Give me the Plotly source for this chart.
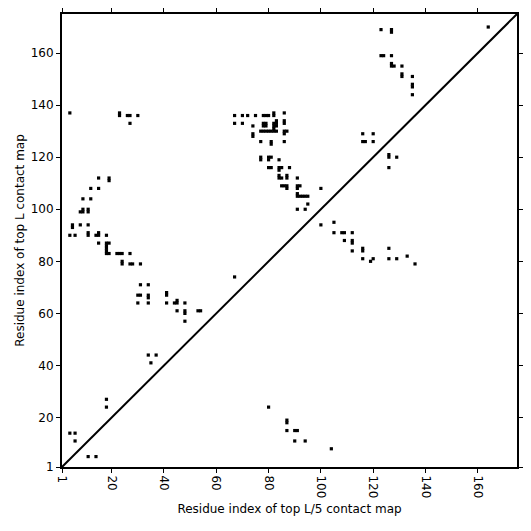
import plotly.graph_objects as go

L = 175
tick_vals = [1, 20, 40, 60, 80, 100, 120, 140, 160]
tick_text = ["1", "20", "40", "60", "80", "100", "120", "140", "160"]

# contacts of top L map (upper triangle): (x, y)
top_L_x = [4, 23, 23, 26, 27, 30, 27,
           15, 19, 19, 12, 15, 9, 12, 8, 9, 9, 11, 11, 5, 5, 8, 11, 4, 6, 11, 11, 14, 15, 15, 18,
           15, 18, 18, 18, 19, 18, 18, 19, 22, 23, 24, 27, 24, 24, 27, 28, 31, 31, 34, 30, 31, 34, 34,
           41, 41, 30, 34, 41, 44, 45, 45, 45, 48, 48, 48, 53, 54, 48, 34, 37, 35, 18, 18, 4, 6, 6, 11, 14,
           67, 70, 72, 75, 78, 79, 80, 82, 82, 86,
           67, 70, 74, 78, 79, 78, 79, 82, 83, 82, 83, 83, 86, 86,
           74, 74, 77, 78, 79, 80, 81, 82, 82, 83, 86, 87, 86,
           77, 81, 81, 86,
           77, 77, 80, 80, 81, 84,
           80, 81, 84, 85, 84, 88,
           84, 84, 85, 87, 87, 91,
           85, 86, 87, 87, 91, 92, 91, 100,
           91, 92, 91, 93, 94, 95,
           95, 91, 94, 67,
           116, 120, 116, 117, 120, 123, 127, 127, 123, 124, 127, 127, 127, 128, 131, 131, 131,
           135, 135, 135, 135, 164]
top_L_y = [137, 136, 137, 136, 136, 136, 133,
           112, 111, 112, 108, 108, 104, 104, 99, 99, 100, 99, 100, 93, 94, 94, 94, 90, 90, 90, 91, 90, 90, 91, 90,
           87, 85, 86, 87, 87, 84, 83, 83, 83, 83, 83, 83, 79, 80, 79, 79, 79, 71, 71, 67, 67, 66, 67,
           67, 68, 64, 64, 64, 64, 64, 65, 61, 64, 60, 61, 61, 61, 57, 44, 44, 41, 27, 24, 14, 14, 11, 5, 5,
           136, 136, 136, 136, 136, 136, 136, 136, 137, 137,
           133, 133, 132, 132, 132, 133, 133, 132, 132, 133, 133, 134, 133, 134,
           128, 129, 130, 130, 130, 130, 130, 130, 131, 130, 130, 130, 129,
           126, 125, 126, 126,
           119, 120, 119, 120, 120, 119,
           116, 116, 116, 116, 115, 116,
           112, 113, 112, 112, 113, 112,
           109, 109, 109, 108, 109, 109, 108, 108,
           105, 105, 106, 105, 105, 105,
           102, 100, 100, 74,
           129, 129, 126, 126, 126, 169, 168, 169, 159, 159, 159, 156, 155, 155, 155, 151, 152,
           151, 147, 148, 144, 170]

# contacts of top L/5 map (lower triangle): (x, y)
top_L5_x = [80, 87, 87, 87, 90, 91, 90, 94, 104,
            100, 105, 105, 108, 109, 112, 109, 112, 112, 112, 116, 116, 116, 119, 120,
            126, 126, 129, 133, 136, 126, 126, 126, 129]
top_L5_y = [24, 18, 19, 15, 15, 15, 11, 11, 8,
            94, 95, 91, 91, 91, 91, 88, 87, 88, 84, 84, 85, 81, 80, 81,
            85, 81, 81, 82, 79, 116, 120, 121, 120]

diag = [1, L]

fig = go.Figure()
fig.add_trace(go.Scatter(x=diag, y=diag, mode="lines",
                         line=dict(color="black", width=2), hoverinfo="skip"))
fig.add_trace(go.Scatter(x=top_L_x, y=top_L_y, mode="markers", name="top L",
                         marker=dict(symbol="square", size=3.2, color="black",
                                     line=dict(width=0))))
fig.add_trace(go.Scatter(x=top_L5_x, y=top_L5_y, mode="markers", name="top L/5",
                         marker=dict(symbol="square", size=3.2, color="black",
                                     line=dict(width=0))))

axis_common = dict(
    range=[1, L], tickmode="array", tickvals=tick_vals, ticktext=tick_text,
    showgrid=False, zeroline=False, showline=True, linecolor="black", linewidth=2,
    mirror="allticks", ticks="outside", ticklen=4, tickwidth=1, tickcolor="black",
    tickfont=dict(family="DejaVu Sans", size=12, color="black"),
)

fig.update_layout(
    width=523, height=523,
    margin=dict(l=54, r=14, t=6, b=64, autoexpand=False),
    paper_bgcolor="white", plot_bgcolor="white",
    showlegend=False,
    font=dict(family="DejaVu Sans", size=12, color="black"),
    xaxis=dict(**axis_common, tickangle=90, automargin=False,
               title=dict(text="Residue index of top L/5 contact map",
                          font=dict(size=12, color="black"), standoff=7)),
    yaxis=dict(**axis_common, automargin=False,
               title=dict(text="Residue index of top L contact map",
                          font=dict(size=12, color="black"), standoff=3)),
)

fig.write_html("out.html")
